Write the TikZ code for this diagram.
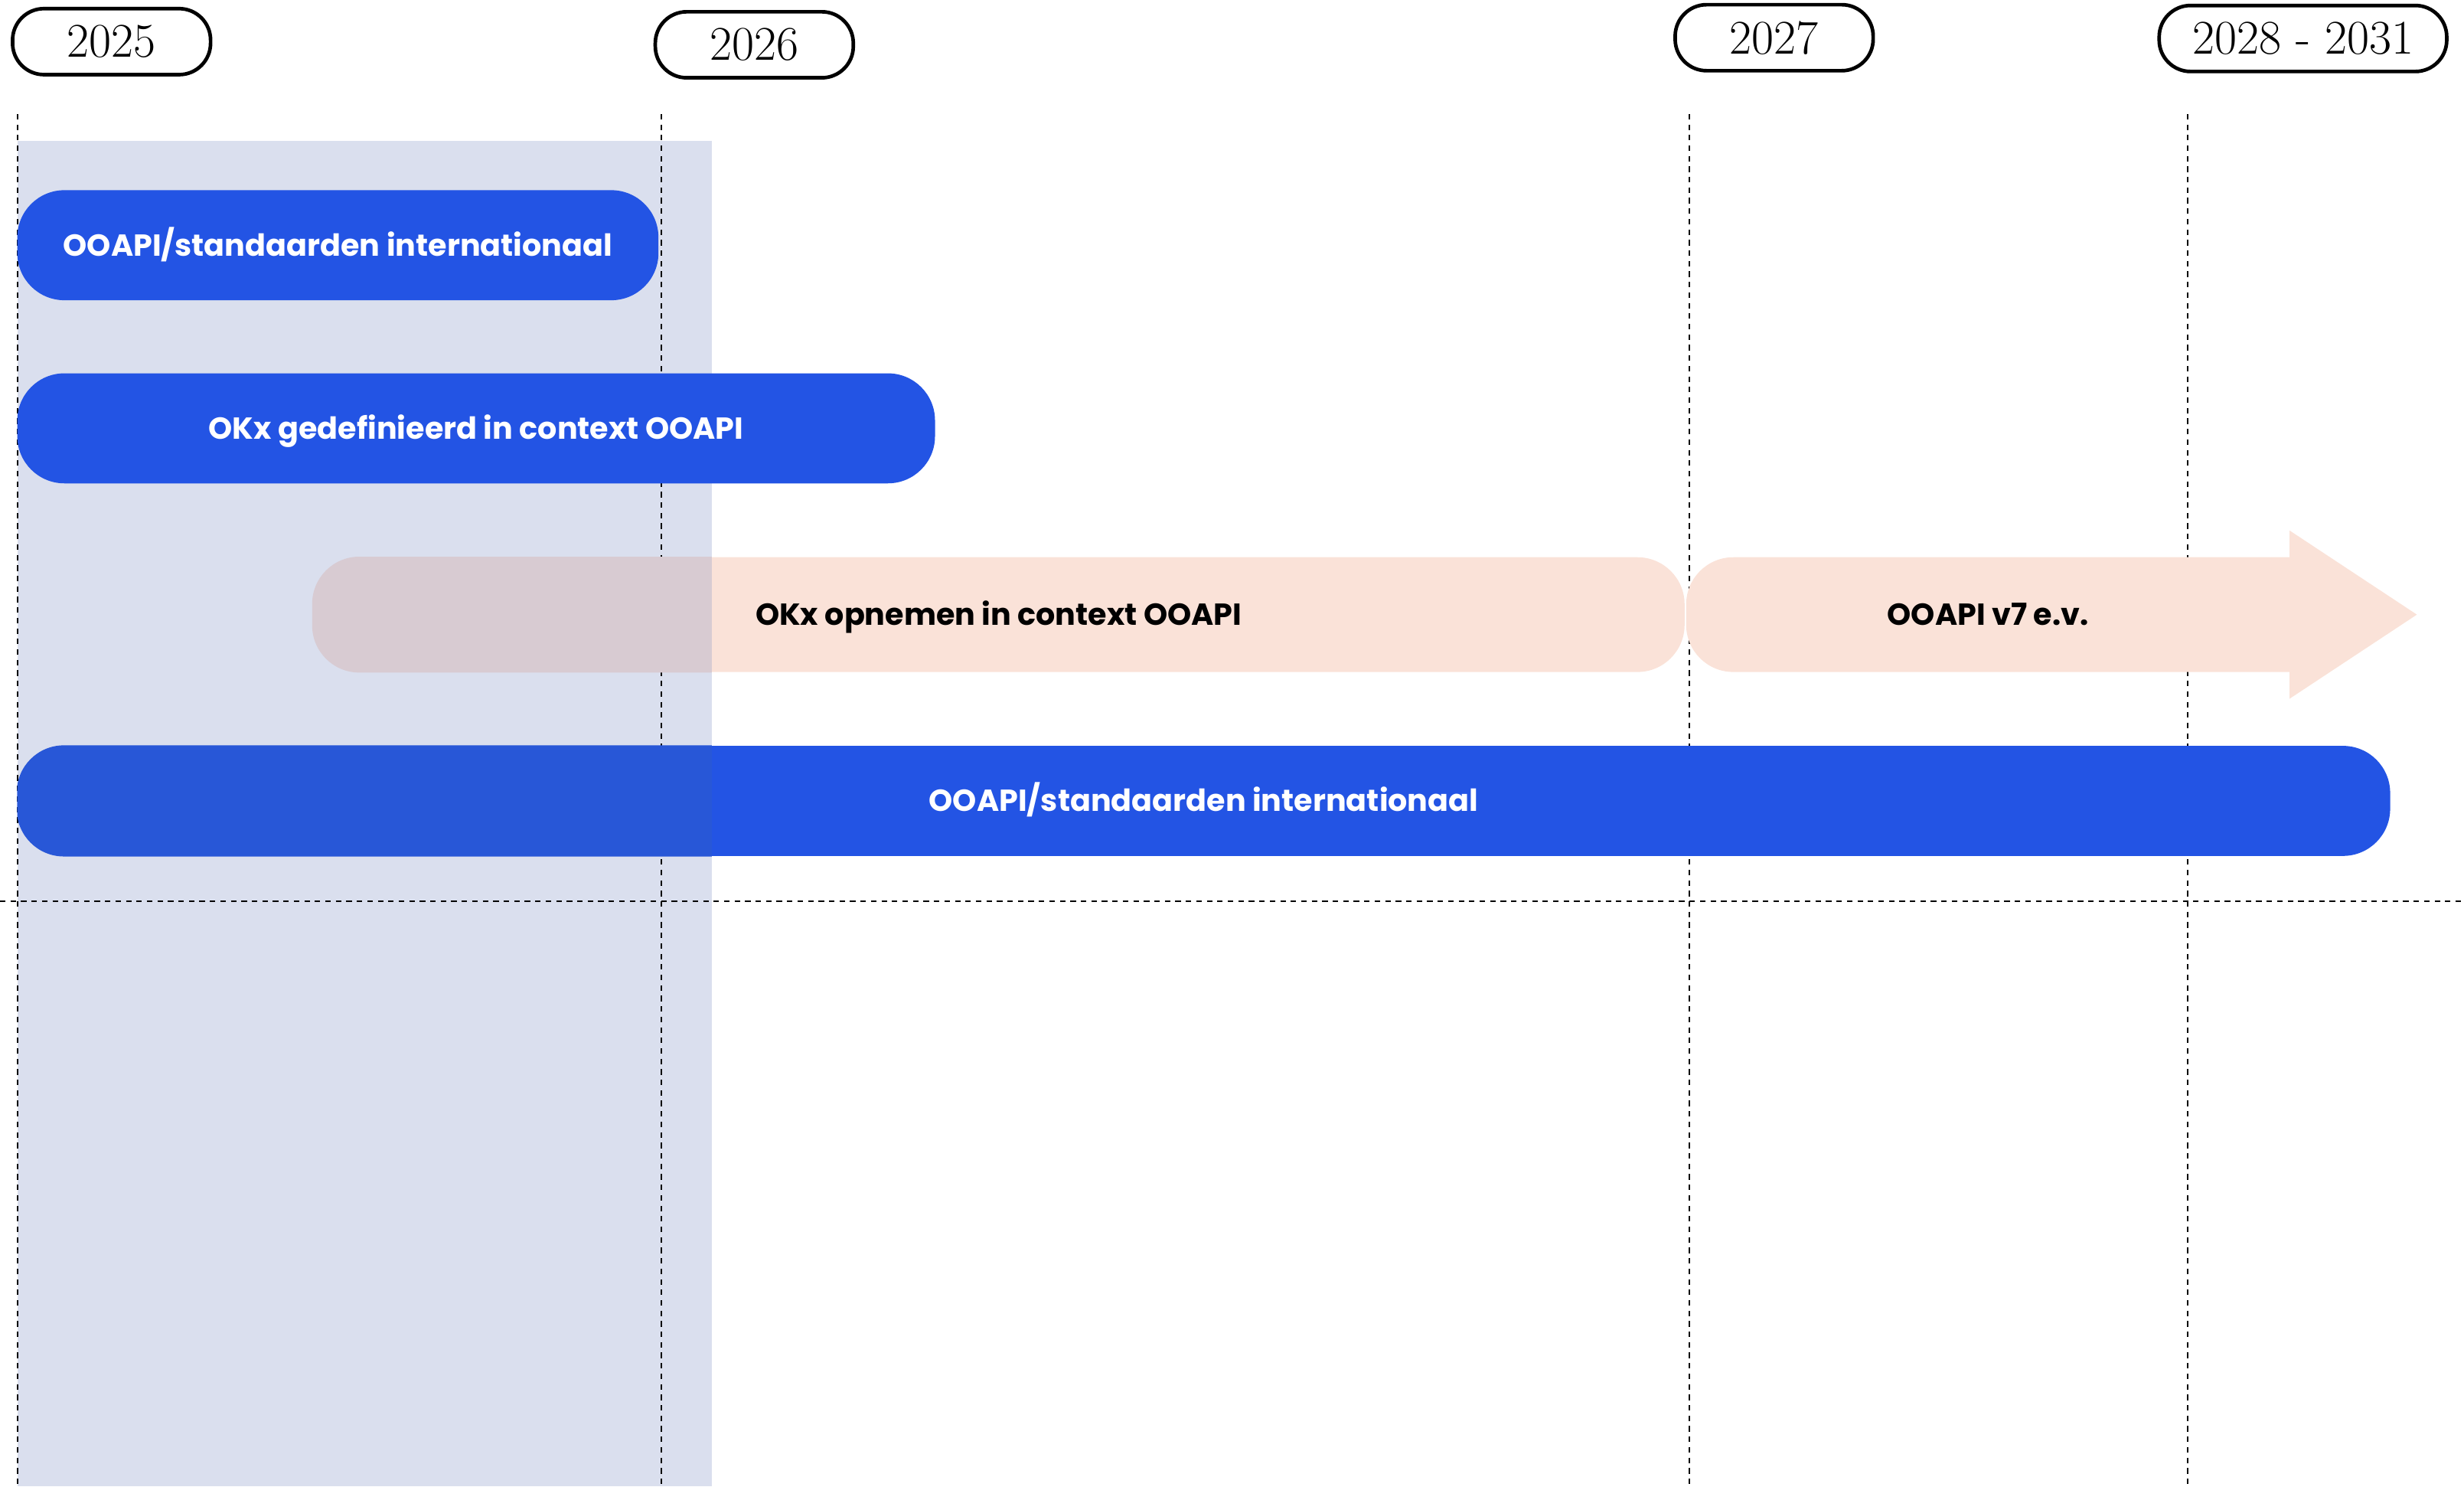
\documentclass[tikz,border=0pt]{standalone}
\usepackage{fontspec}
\newfontfamily\barfont{Poppins}
\definecolor{barblue}{RGB}{35,84,228}
\definecolor{barpeach}{RGB}{250,226,216}
\definecolor{nowshade}{RGB}{218,223,238}
\definecolor{nowblue}{RGB}{40,87,215}
\definecolor{nowpeach}{RGB}{216,203,210}
\tikzset{
    yearpill/.style={
        rectangle,
        draw=black,
        line width=1.3pt,
        fill=white,
        rounded corners=0.4cm,
        minimum width=2.52cm,
        minimum height=0.84cm,
        inner sep=0pt,
        font=\fontsize{17.5}{20}\selectfont
    },
    barlabel/.style={
        inner sep=0pt,
        text height=7.7pt,
        text depth=0pt,
        font=\barfont\bfseries\fontsize{11}{13}\selectfont
    },
    bar/.style={
        barlabel,
        rectangle,
        fill=barblue,
        text=white,
        rounded corners=0.6cm,
        minimum height=1.4cm
    },
    softbar/.style={
        bar,
        fill=barpeach,
        text=black,
        minimum height=1.46cm
    },
    gridline/.style={
        line width=0.6pt,
        dash pattern=on 2pt off 1.8pt
    }
}

\begin{document}
\begin{tikzpicture}
    \useasboundingbox (0,0) rectangle (31.36,18.91);

    % Year markers
    \node[yearpill] (y2025) at (1.42,18.38) {2025};
    \node[yearpill] (y2026) at (9.60,18.34) {2026};
    \node[yearpill] (y2027) at (22.58,18.43) {2027};
    \node[yearpill, minimum width=3.66cm] (y2028) at (29.31,18.42) {2028 - 2031};

    % Current year shading
    \fill[nowshade] (0.22,0) rectangle (9.06,17.12);

    % Grid
    \foreach \x in {0.22, 8.42, 21.50, 27.84}
        \draw[gridline] (\x,17.46) -- (\x,0);
    \draw[gridline] (0,7.44) -- (31.36,7.44);

    % Long running bars
    \node[softbar, minimum width=17.46cm] (opnemen) at (12.71,11.09) {OKx opnemen in context OOAPI};
    \fill[barpeach] (29.14,10.36) -- (22.06,10.36) arc[start angle=270, end angle=180, radius=0.6]
        -- (21.46,11.22) arc[start angle=180, end angle=90, radius=0.6]
        -- (29.14,11.82) -- (29.14,12.16) -- (30.76,11.09) -- (29.14,10.02) -- cycle;
    \node[barlabel] (v7) at (25.30,11.09) {OOAPI v7 e.v.};
    \node[bar, minimum width=30.20cm] (intl) at (15.32,8.72) {OOAPI/standaarden internationaal};

    % Parts of the long bars inside 2025
    \begin{scope}
        \clip (0.22,0) rectangle (9.06,17.12);
        \fill[nowpeach, rounded corners=0.6cm] (opnemen.south west) rectangle (opnemen.north east);
        \fill[nowblue, rounded corners=0.6cm] (intl.south west) rectangle (intl.north east);
    \end{scope}

    % Bars within 2025
    \node[bar, minimum width=8.16cm] (intlnow) at (4.30,15.79) {OOAPI/standaarden internationaal};
    \node[bar, minimum width=11.68cm] (gedef) at (6.06,13.46) {OKx gedefinieerd in context OOAPI};

\end{tikzpicture}
\end{document}
